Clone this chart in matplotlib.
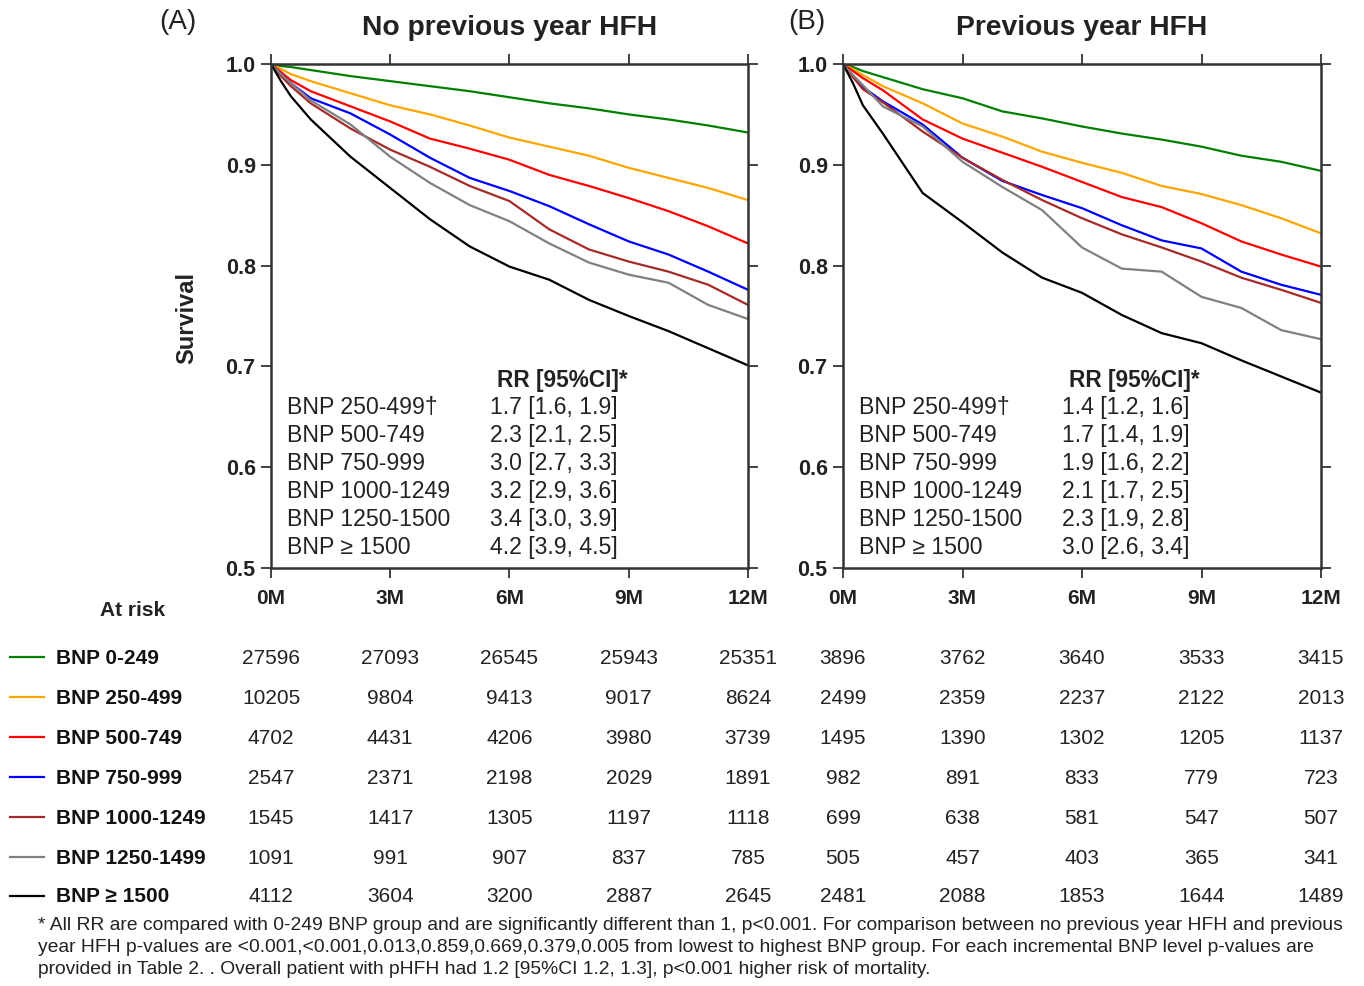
import matplotlib
matplotlib.use("Agg")
import matplotlib.pyplot as plt
import matplotlib.transforms as mtransforms

plt.rcParams['font.family'] = ['Liberation Sans', 'DejaVu Sans']

# ---------------- data ----------------
months = [0, 0.25, 0.5, 1, 2, 3, 4, 5, 6, 7, 8, 9, 10, 11, 12]
groups = ["BNP 0-249", "BNP 250-499", "BNP 500-749", "BNP 750-999",
          "BNP 1000-1249", "BNP 1250-1499", "BNP \u2265 1500"]
colors = ["#008000", "#FFA500", "#FF0000", "#0000FF", "#A52A2A", "#808080", "#000000"]

surv_A_0_249 = [1.0, 0.998, 0.997, 0.994, 0.988, 0.983, 0.978, 0.973, 0.967, 0.961, 0.956, 0.950, 0.945, 0.939, 0.932]
surv_A_250_499 = [1.0, 0.995, 0.990, 0.983, 0.971, 0.959, 0.950, 0.939, 0.927, 0.918, 0.909, 0.897, 0.887, 0.877, 0.865]
surv_A_500_749 = [1.0, 0.992, 0.984, 0.973, 0.958, 0.943, 0.926, 0.916, 0.905, 0.890, 0.879, 0.867, 0.854, 0.839, 0.822]
surv_A_750_999 = [1.0, 0.990, 0.981, 0.966, 0.951, 0.930, 0.907, 0.887, 0.874, 0.859, 0.841, 0.824, 0.811, 0.794, 0.776]
surv_A_1000_1249 = [1.0, 0.988, 0.978, 0.961, 0.936, 0.915, 0.898, 0.879, 0.864, 0.836, 0.816, 0.804, 0.794, 0.781, 0.761]
surv_A_1250_1499 = [1.0, 0.990, 0.981, 0.964, 0.940, 0.908, 0.882, 0.860, 0.844, 0.822, 0.803, 0.791, 0.783, 0.761, 0.747]
surv_A_1500 = [1.0, 0.983, 0.968, 0.945, 0.908, 0.877, 0.846, 0.819, 0.799, 0.786, 0.766, 0.750, 0.735, 0.718, 0.701]

surv_B_0_249 = [1.0, 0.997, 0.993, 0.987, 0.975, 0.966, 0.953, 0.946, 0.938, 0.931, 0.925, 0.918, 0.909, 0.903, 0.894]
surv_B_250_499 = [1.0, 0.995, 0.989, 0.978, 0.961, 0.941, 0.928, 0.913, 0.902, 0.892, 0.879, 0.871, 0.860, 0.847, 0.832]
surv_B_500_749 = [1.0, 0.993, 0.986, 0.974, 0.945, 0.926, 0.912, 0.898, 0.883, 0.868, 0.858, 0.842, 0.824, 0.811, 0.799]
surv_B_750_999 = [1.0, 0.988, 0.977, 0.963, 0.940, 0.907, 0.884, 0.870, 0.857, 0.840, 0.825, 0.817, 0.794, 0.781, 0.771]
surv_B_1000_1249 = [1.0, 0.987, 0.975, 0.962, 0.933, 0.907, 0.885, 0.865, 0.847, 0.831, 0.818, 0.804, 0.788, 0.776, 0.763]
surv_B_1250_1499 = [1.0, 0.989, 0.979, 0.958, 0.938, 0.903, 0.878, 0.855, 0.818, 0.797, 0.794, 0.769, 0.758, 0.736, 0.727]
surv_B_1500 = [1.0, 0.981, 0.959, 0.931, 0.872, 0.843, 0.813, 0.788, 0.773, 0.751, 0.733, 0.723, 0.706, 0.690, 0.674]

x_ticks = [0, 3, 6, 9, 12]
x_ticklabels = ["0M", "3M", "6M", "9M", "12M"]
y_ticks = [0.5, 0.6, 0.7, 0.8, 0.9, 1.0]

rr_labels = ["BNP 250-499\u2020", "BNP 500-749", "BNP 750-999",
             "BNP 1000-1249", "BNP 1250-1500", "BNP \u2265 1500"]
rr_A = ["1.7 [1.6, 1.9]", "2.3 [2.1, 2.5]", "3.0 [2.7, 3.3]",
        "3.2 [2.9, 3.6]", "3.4 [3.0, 3.9]", "4.2 [3.9, 4.5]"]
rr_B = ["1.4 [1.2, 1.6]", "1.7 [1.4, 1.9]", "1.9 [1.6, 2.2]",
        "2.1 [1.7, 2.5]", "2.3 [1.9, 2.8]", "3.0 [2.6, 3.4]"]

risk_A = [[27596, 27093, 26545, 25943, 25351],
          [10205, 9804, 9413, 9017, 8624],
          [4702, 4431, 4206, 3980, 3739],
          [2547, 2371, 2198, 2029, 1891],
          [1545, 1417, 1305, 1197, 1118],
          [1091, 991, 907, 837, 785],
          [4112, 3604, 3200, 2887, 2645]]
risk_B = [[3896, 3762, 3640, 3533, 3415],
          [2499, 2359, 2237, 2122, 2013],
          [1495, 1390, 1302, 1205, 1137],
          [982, 891, 833, 779, 723],
          [699, 638, 581, 547, 507],
          [505, 457, 403, 365, 341],
          [2481, 2088, 1853, 1644, 1489]]

footnote_lines = [
    "* All RR are compared with 0-249 BNP group and are significantly different than 1, p<0.001. "
    "For comparison between no previous year HFH and previous",
    "year HFH p-values are <0.001,<0.001,0.013,0.859,0.669,0.379,0.005 from lowest to highest BNP group. "
    "For each incremental BNP level p-values are",
    "provided in Table 2. . Overall patient with pHFH had 1.2 [95%CI 1.2, 1.3], p<0.001 higher risk of mortality.",
]

curves_A = [surv_A_0_249, surv_A_250_499, surv_A_500_749, surv_A_750_999,
            surv_A_1000_1249, surv_A_1250_1499, surv_A_1500]
curves_B = [surv_B_0_249, surv_B_250_499, surv_B_500_749, surv_B_750_999,
            surv_B_1000_1249, surv_B_1250_1499, surv_B_1500]

# ---------------- layout ----------------
W, H = 1364, 986
fig = plt.figure(figsize=(W / 100, H / 100), dpi=100)
fig.patch.set_facecolor("white")


def fx(px):
    return px / W


def fy(py):
    return 1 - py / H


axA = fig.add_axes([fx(271), fy(568), (748 - 271) / W, (568 - 64) / H])
axB = fig.add_axes([fx(843), fy(568), (1321 - 843) / W, (568 - 64) / H])

txt_col = "#222222"
spine_col = "#333333"
for ax, curves, title, tag, tagx, rr in [
        (axA, curves_A, "No previous year HFH", "(A)", 178, rr_A),
        (axB, curves_B, "Previous year HFH", "(B)", 807, rr_B)]:
    for c, col in zip(curves, colors):
        ax.plot(months, c, color=col, lw=1.6, solid_joinstyle="round")
    ax.set_xlim(0, 12)
    ax.set_ylim(0.5, 1.0)
    ax.set_xticks(x_ticks)
    ax.set_xticklabels(x_ticklabels, fontsize=15, fontweight="bold", color=txt_col)
    ax.set_yticks(y_ticks)
    ax.set_yticklabels(["%.1f" % v for v in y_ticks], fontsize=15.5, fontweight="bold", color=txt_col)
    ax.tick_params(axis="both", which="both", direction="out", length=7, width=1.3,
                   color=spine_col, top=True, right=True, labeltop=False, labelright=False)
    ax.tick_params(axis="x", pad=8)
    ax.tick_params(axis="y", pad=4)
    for s in ax.spines.values():
        s.set_linewidth(1.8)
        s.set_color(spine_col)
    x0, x1 = ax.get_position().x0, ax.get_position().x1
    fig.text((x0 + x1) / 2, fy(28), title, fontsize=20.3, fontweight="bold", color=txt_col,
             ha="center", va="center")
    fig.text(fx(tagx), fy(22), tag, fontsize=20, ha="center", va="center", color=txt_col)

    # RR block
    fig.text(x0 + fx(226), fy(380), "RR [95%CI]*", fontsize=16.3, fontweight="bold",
             ha="left", va="center", color=txt_col)
    for i, (lab, val) in enumerate(zip(rr_labels, rr)):
        yy = 408 + 27.9 * i
        fig.text(x0 + fx(16), fy(yy), lab, fontsize=16.6, ha="left", va="center", color=txt_col)
        fig.text(x0 + fx(219), fy(yy), val, fontsize=16.6, ha="left", va="center", color=txt_col)

fig.text(fx(187), fy(318), "Survival", fontsize=17, fontweight="bold", color=txt_col,
         rotation=90, ha="center", va="center")

# ---------------- at risk table ----------------
fig.text(fx(133), fy(611), "At risk", fontsize=15, fontweight="bold", ha="center", va="center",
         color=txt_col)
row_y = [658, 698, 738, 778, 818, 858, 897]
for i, (g, col) in enumerate(zip(groups, colors)):
    yy = fy(row_y[i])
    fig.add_artist(plt.Line2D([fx(10), fx(44)], [yy + 0.001, yy + 0.001], color=col, lw=1.6,
                              transform=fig.transFigure))
    fig.text(fx(56), yy, g, fontsize=15, fontweight="bold", ha="left", va="center", color="#111111")
    for ax, risk in [(axA, risk_A), (axB, risk_B)]:
        tr = mtransforms.blended_transform_factory(ax.transData, fig.transFigure)
        for t, n in zip(x_ticks, risk[i]):
            fig.text(t, yy, str(n), fontsize=15, ha="center", va="center", color=txt_col,
                     transform=tr)

for k, line in enumerate(footnote_lines):
    fig.text(fx(38), fy(926 + 22 * k), line, fontsize=13.9, ha="left", va="center", color=txt_col)

fig.savefig("out.png", dpi=100, facecolor="white")
